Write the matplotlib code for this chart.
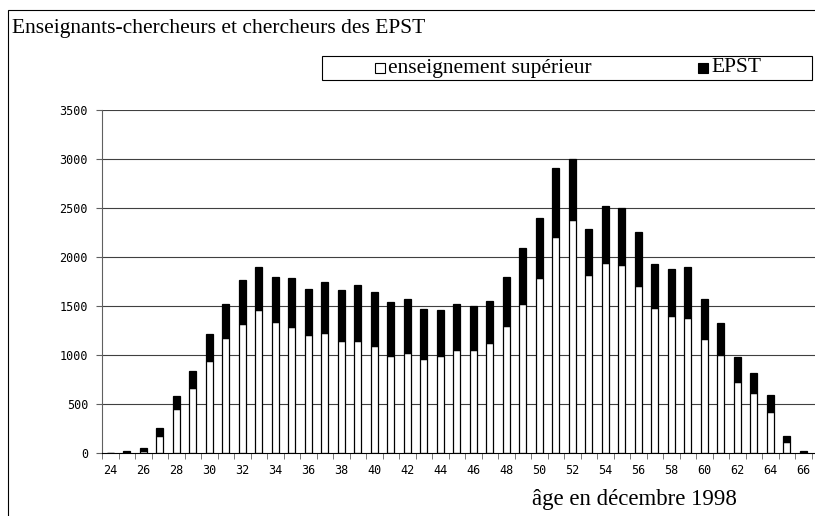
import matplotlib
matplotlib.use("Agg")
import matplotlib.pyplot as plt
from matplotlib.patches import Rectangle
import numpy as np

# ages 24..66, en décembre 1998
ages = list(range(24, 67))
sup = [0, 5, 25, 177, 452, 663, 942, 1169, 1318, 1461, 1332, 1284, 1203,
       1220, 1138, 1138, 1087, 985, 1019, 955, 985, 1053, 1053, 1121, 1301,
       1525, 1790, 2208, 2375, 1821, 1937, 1916, 1706, 1475, 1396, 1379,
       1165, 999, 724, 612, 414, 109, 0]
total = [0, 22, 48, 251, 578, 839, 1213, 1522, 1767, 1899, 1801, 1784, 1672,
         1750, 1668, 1719, 1638, 1539, 1570, 1471, 1458, 1522, 1495, 1556, 1801,
         2093, 2402, 2908, 3000, 2287, 2518, 2501, 2256, 1930, 1882, 1896,
         1570, 1325, 982, 819, 588, 170, 20]
epst = [t - s for t, s in zip(total, sup)]
yticks = list(range(0, 3501, 500))

W, H = 815, 516
fig = plt.figure(figsize=(W / 100, H / 100), dpi=100)

serif = ["Liberation Serif", "DejaVu Serif"]

# outer chart frame (cropped on right/bottom)
fig.patches.append(Rectangle((8 / W, -0.2), 1.5, 1.2 - 10 / H, transform=fig.transFigure,
                             fill=False, edgecolor="black", linewidth=0.8))

ax = fig.add_axes([102 / W, 1 - 453 / H, (W - 102) / W, (453 - 110) / H])
x = np.arange(len(ages))
for yt in yticks[1:]:
    ax.axhline(yt, color="#404040", linewidth=0.8, zorder=0)
ax.bar(x, sup, width=0.45, facecolor="white", edgecolor="black", linewidth=0.9, zorder=3)
ax.bar(x, epst, width=0.45, bottom=sup, facecolor="black", edgecolor="black", linewidth=0.9, zorder=3)

ax.set_ylim(0, 3500)
ax.set_xlim(-0.5, -0.5 + (W - 102) / 16.5)
ax.set_yticks(yticks)

ax.set_xticks(x[::2], [str(a) for a in ages[::2]])
ax.set_xticks(np.arange(-0.5, len(ages) + 0.5), minor=True)
ax.tick_params(axis="x", which="major", length=0, pad=8, labelsize=8.5)
ax.tick_params(axis="x", which="minor", length=4, direction="out", color="#606060")
ax.tick_params(axis="y", length=4, direction="out", color="#606060", labelsize=8.5, pad=6)
for lab in ax.get_xticklabels() + ax.get_yticklabels():
    lab.set_family("DejaVu Sans Mono")

for s in ["top", "right"]:
    ax.spines[s].set_visible(False)
ax.spines["left"].set_color("#606060")
ax.spines["bottom"].set_color("black")
ax.spines["bottom"].set_zorder(4)

fig.text(12 / W, 1 - 29 / H, "Enseignants-chercheurs et chercheurs des EPST",
         family=serif, fontsize=15.5, va="center", ha="left")

# legend box
fig.patches.append(Rectangle((322 / W, 1 - 80 / H), 490 / W, 24 / H, transform=fig.transFigure,
                             facecolor="white", edgecolor="black", linewidth=0.8))
fig.patches.append(Rectangle((375 / W, 1 - 73 / H), 10 / W, 10 / H, transform=fig.transFigure,
                             facecolor="white", edgecolor="black", linewidth=0.8))
fig.patches.append(Rectangle((698 / W, 1 - 73 / H), 10 / W, 10 / H, transform=fig.transFigure,
                             facecolor="black", edgecolor="black", linewidth=0.8))
fig.text(388 / W, 1 - 68 / H, "enseignement supérieur", family=serif, fontsize=15.5,
         va="center", ha="left")
fig.text(711 / W, 1 - 68 / H, "EPST", family=serif, fontsize=15.5, va="center", ha="left")

fig.text(634 / W, 1 - 500 / H, "âge en décembre 1998", family=serif, fontsize=16.5,
         va="center", ha="center")

fig.savefig("out.png", dpi=100)
